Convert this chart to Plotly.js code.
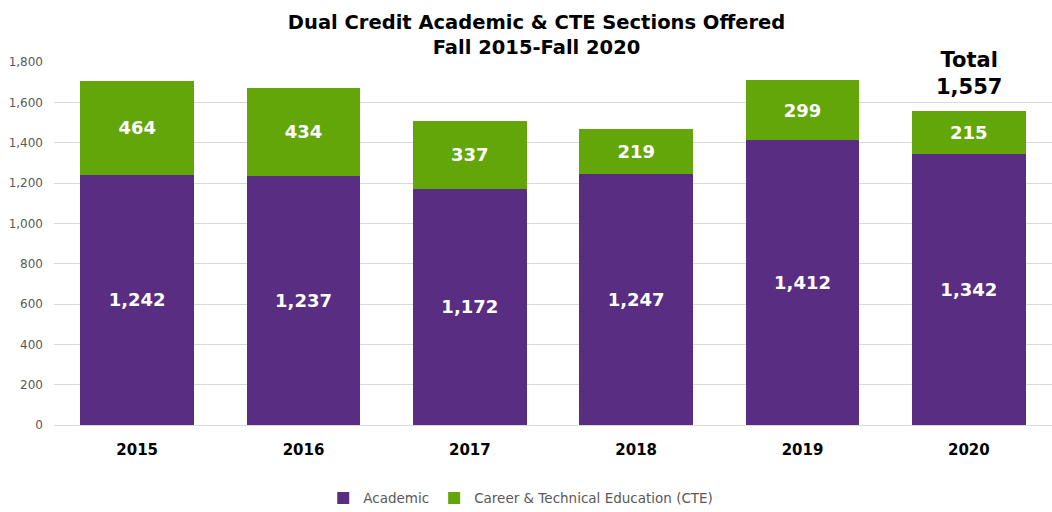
<!DOCTYPE html>
<html><head><meta charset="utf-8">
<script src="https://cdn.plot.ly/plotly-3.0.1.min.js"></script>
<style>html,body{margin:0;padding:0;background:#fff}#chart{width:1052px;height:512px}</style>
</head><body><div id="chart"></div>
<script>
const years = ['2015','2016','2017','2018','2019','2020'];
const academic = [1242, 1237, 1172, 1247, 1412, 1342];
const cte = [464, 434, 337, 219, 299, 215];
const yTicks = [0,200,400,600,800,1000,1200,1400,1600,1800];

const FONT = '"DejaVu Sans", sans-serif';
const fmt = v => v.toLocaleString('en-US');
const lastIdx = years.length - 1;
const lastTotal = academic[lastIdx] + cte[lastIdx];

const traces = [
  {type:'bar', name:'Academic', x:years, y:academic, marker:{color:'#582D82'},
   text:academic.map(fmt), textposition:'inside', insidetextanchor:'middle',
   textfont:{color:'#ffffff', size:18, family:FONT, weight:'bold'}, hoverinfo:'none'},
  {type:'bar', name:'Career & Technical Education (CTE)', x:years, y:cte, marker:{color:'#63A60A'},
   text:cte.map(fmt), textposition:'inside', insidetextanchor:'middle',
   textfont:{color:'#ffffff', size:18, family:FONT, weight:'bold'}, hoverinfo:'none'}
];

const layout = {
  width:1052, height:512, barmode:'stack', bargap:0.315,
  paper_bgcolor:'#ffffff', plot_bgcolor:'#ffffff',
  margin:{l:54, r:0, t:62, b:87},
  font:{family:FONT, color:'#595959'},
  title:{text:'Dual Credit Academic & CTE Sections Offered<br>Fall 2015-Fall 2020',
    font:{family:FONT, size:19.5, color:'#000000', weight:'bold'},
    x:0.51, xanchor:'center', y:0.944, yanchor:'middle'},
  xaxis:{type:'category', range:[-0.5, years.length - 0.5], automargin:false,
    tickfont:{family:FONT, size:15, color:'#000000', weight:'bold'},
    showline:false, showgrid:false, ticks:'', ticklabelstandoff:14},
  yaxis:{range:[0,1800], tickvals:yTicks, ticktext:yTicks.map(fmt), automargin:false,
    tickfont:{family:FONT, size:12, color:'#595959'}, showgrid:true, gridcolor:'#D9D9D9', gridwidth:1,
    zeroline:true, zerolinecolor:'#D9D9D9', ticks:'', showline:false, ticklabelstandoff:10},
  legend:{orientation:'h', xref:'container', yref:'container', x:0.495, xanchor:'center', y:0.027, yanchor:'middle',
    font:{family:FONT, size:13.5, color:'#595959'}, traceorder:'normal'},
  annotations:[{xref:'x', yref:'y', x:lastIdx, y:lastTotal, yanchor:'bottom',
    text:'Total<br>' + fmt(lastTotal), showarrow:false, bgcolor:'#ffffff', yshift:10,
    font:{family:FONT, size:21, color:'#000000', weight:'bold'}}]
};

Plotly.newPlot('chart', traces, layout, {displayModeBar:false, staticPlot:true});
</script></body></html>
